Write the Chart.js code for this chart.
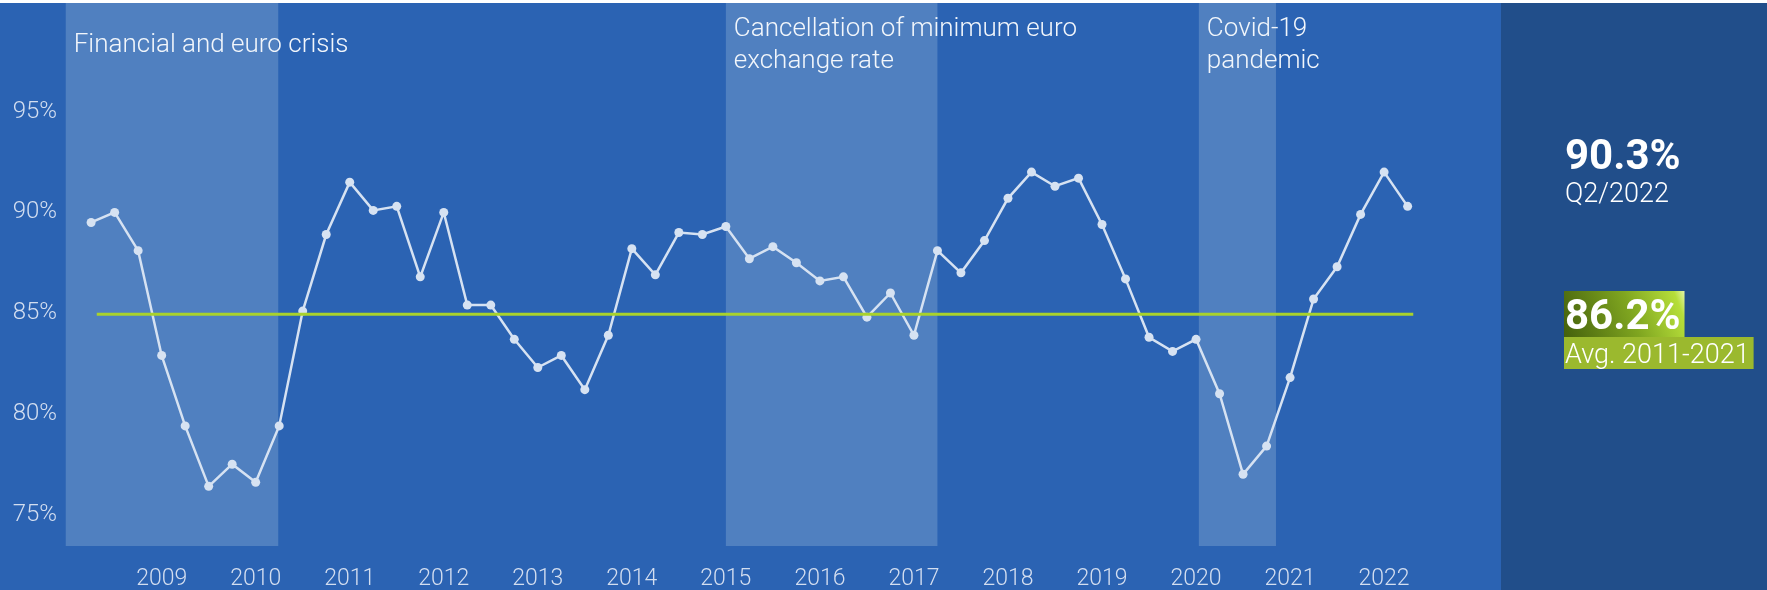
<!DOCTYPE html>
<html>
<head>
<meta charset="utf-8">
<script src="https://cdn.jsdelivr.net/npm/chart.js@4/dist/chart.umd.min.js"></script>
<style>
html,body{margin:0;padding:0;background:#ffffff;}
#wrap{position:relative;width:1767px;height:590px;}
canvas{display:block;}
</style>
</head>
<body>
<div id="wrap"><canvas id="c" width="1767" height="590"></canvas></div>
<script>
// ---------- data ----------
const quarters = ['Q2/2008','Q3/2008','Q4/2008',
  'Q1/2009','Q2/2009','Q3/2009','Q4/2009',
  'Q1/2010','Q2/2010','Q3/2010','Q4/2010',
  'Q1/2011','Q2/2011','Q3/2011','Q4/2011',
  'Q1/2012','Q2/2012','Q3/2012','Q4/2012',
  'Q1/2013','Q2/2013','Q3/2013','Q4/2013',
  'Q1/2014','Q2/2014','Q3/2014','Q4/2014',
  'Q1/2015','Q2/2015','Q3/2015','Q4/2015',
  'Q1/2016','Q2/2016','Q3/2016','Q4/2016',
  'Q1/2017','Q2/2017','Q3/2017','Q4/2017',
  'Q1/2018','Q2/2018','Q3/2018','Q4/2018',
  'Q1/2019','Q2/2019','Q3/2019','Q4/2019',
  'Q1/2020','Q2/2020','Q3/2020','Q4/2020',
  'Q1/2021','Q2/2021','Q3/2021','Q4/2021',
  'Q1/2022','Q2/2022'];
const utilisation = [89.5, 90.0, 88.1,
  82.9, 79.4, 76.4, 77.5,
  76.6, 79.4, 85.1, 88.9,
  91.5, 90.1, 90.3, 86.8,
  90.0, 85.4, 85.4, 83.7,
  82.3, 82.9, 81.2, 83.9,
  88.2, 86.9, 89.0, 88.9,
  89.3, 87.7, 88.3, 87.5,
  86.6, 86.8, 84.8, 86.0,
  83.9, 88.1, 87.0, 88.6,
  90.7, 92.0, 91.3, 91.7,
  89.4, 86.7, 83.8, 83.1,
  83.7, 81.0, 77.0, 78.4,
  81.8, 85.7, 87.3, 89.9,
  92.0, 90.3];
const yearTicks = [2009,2010,2011,2012,2013,2014,2015,2016,2017,2018,2019,2020,2021,2022];
const percentTicks = [75,80,85,90,95];
const averageLine = [84.95, 84.95];          // level as drawn in the picture
const averageSpan = [2008.31, 2022.31];       // years
const averageText = '86.2%';
const averagePeriod = 'Avg. 2011-2021';
const bandNames = [['Financial and euro crisis'], ['Cancellation of minimum euro','exchange rate'], ['Covid-19','pandemic']];
const bandFrom = [2007.98, 2015.0, 2020.03];
const bandTo   = [2010.24, 2017.25, 2020.85];

// ---------- style ----------
const W = 1767, H = 590, TOP = 3;
const MAIN = '#2B63B3', PANEL = '#214E8A', BAND = '#5080C0';
const LINE = '#D6E2F2', GREEN = '#A9D22B', TICK = '#D3DEF0', TEXT = '#F2F6FB';
const FONT = 'Roboto, "Open Sans", sans-serif';
const bandLabelTop = [52, 36, 36];

function quarterToYear(q){
  const m = /^Q(\d)\/(\d{4})$/.exec(q);
  return Number(m[2]) + (Number(m[1]) - 1) / 4;
}
const xs = quarters.map(quarterToYear);

const decor = {
  id: 'decor',
  beforeDraw(chart){
    const {ctx, chartArea: a, scales: {x}} = chart;
    ctx.save();
    ctx.fillStyle = '#ffffff'; ctx.fillRect(0, 0, W, H);
    ctx.fillStyle = MAIN; ctx.fillRect(0, TOP, a.right, H - TOP);
    ctx.fillStyle = PANEL; ctx.fillRect(a.right, TOP, W - a.right, H - TOP);
    ctx.fillStyle = BAND;
    for (let i = 0; i < bandFrom.length; i++){
      const x0 = x.getPixelForValue(bandFrom[i]);
      const x1 = x.getPixelForValue(bandTo[i]);
      ctx.fillRect(x0, TOP, x1 - x0, a.bottom - TOP);
    }
    ctx.restore();
  },
  afterDraw(chart){
    const {ctx, chartArea: a, scales: {x}} = chart;
    ctx.save();
    // band labels
    ctx.fillStyle = TEXT;
    ctx.font = '300 26px ' + FONT;
    ctx.textAlign = 'left';
    ctx.textBaseline = 'alphabetic';
    for (let i = 0; i < bandNames.length; i++){
      const x0 = x.getPixelForValue(bandFrom[i]) + 8;
      bandNames[i].forEach((t, k) => ctx.fillText(t, x0, bandLabelTop[i] + k * 31.5));
    }
    // right panel
    const px = a.right + 64;
    const last = utilisation[utilisation.length - 1];
    ctx.fillStyle = '#ffffff';
    ctx.font = '700 42px ' + FONT;
    ctx.fillText(last.toFixed(1) + '%', px, 169);
    ctx.font = '300 27px ' + FONT;
    ctx.fillText(quarters[quarters.length - 1], px, 202);

    ctx.font = '700 42px ' + FONT;
    const w1 = ctx.measureText(averageText).width;
    const bx = px - 1, by = 291, bw = w1 + 5, bh = 46;
    const g = ctx.createLinearGradient(bx, by + bh, bx + bw, by);
    g.addColorStop(0, '#44600C');
    g.addColorStop(0.55, '#7FA520');
    g.addColorStop(0.92, '#B6DE3A');
    g.addColorStop(1, '#E4F5A8');
    ctx.fillStyle = g; ctx.fillRect(bx, by, bw, bh);
    ctx.fillStyle = '#ffffff';
    ctx.fillText(averageText, px, 329);
    ctx.font = '300 27px ' + FONT;
    const w2 = ctx.measureText(averagePeriod).width;
    ctx.fillStyle = '#9BB92E'; ctx.fillRect(bx, by + bh, w2 + 5, 32);
    ctx.fillStyle = '#ffffff';
    ctx.fillText(averagePeriod, px, 363);
    ctx.restore();
  }
};

new Chart(document.getElementById('c'), {
  type: 'line',
  data: {
    datasets: [
      {
        label: 'Average',
        data: averageSpan.map((v, i) => ({x: v, y: averageLine[i]})),
        borderColor: GREEN, borderWidth: 3, pointRadius: 0, tension: 0, order: 0
      },
      {
        label: 'Utilisation',
        data: xs.map((v, i) => ({x: v, y: utilisation[i]})),
        borderColor: LINE, borderWidth: 2.5, pointRadius: 4.5, pointBackgroundColor: LINE,
        pointBorderWidth: 0, tension: 0, order: 1
      }
    ]
  },
  options: {
    responsive: false, animation: false, devicePixelRatio: 1,
    layout: {padding: {top: TOP, right: W - 1501, left: 0, bottom: 0}},
    plugins: {legend: {display: false}, tooltip: {enabled: false}},
    scales: {
      x: {
        type: 'linear', min: 2007.919, max: 2023.243,
        afterBuildTicks: s => { s.ticks = yearTicks.map(v => ({value: v})); },
        afterFit: s => { s.height = 44; s.paddingLeft = 0; s.paddingRight = 0; },
        grid: {display: false, drawTicks: false}, border: {display: false},
        ticks: {color: TICK, font: {family: FONT, size: 23, weight: 300}, padding: 19, maxRotation: 0, autoSkip: false,
                callback: v => String(v)}
      },
      y: {
        min: 73.44, max: 100.32,
        afterBuildTicks: s => { s.ticks = percentTicks.map(v => ({value: v})); },
        afterFit: s => { s.width = 60; s.paddingTop = 0; s.paddingBottom = 0; },
        grid: {display: false, drawTicks: false}, border: {display: false},
        ticks: {color: TICK, font: {family: FONT, size: 24, weight: 300}, padding: 3,
                callback: v => v + '%'}
      }
    }
  },
  plugins: [decor]
});
</script>
</body>
</html>
